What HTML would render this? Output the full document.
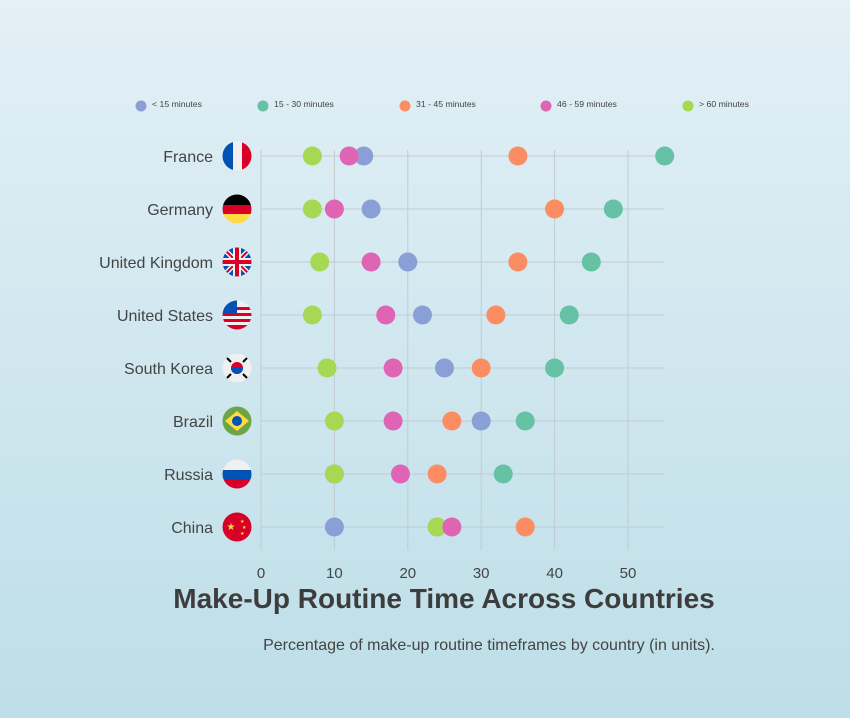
<!DOCTYPE html>
<html><head><meta charset="utf-8"><style>
html,body{margin:0;padding:0;width:850px;height:718px;overflow:hidden}
body{background:linear-gradient(#e3f0f6,#bddee8);font-family:"Liberation Sans",sans-serif}
</style></head><body>
<svg id="chart" width="850" height="718" xmlns="http://www.w3.org/2000/svg" font-family="Liberation Sans, sans-serif">
<defs>
<clipPath id="fc"><circle cx="0" cy="0" r="14.5"/></clipPath>
</defs>
<g id="grid"></g>
<g id="flags"></g>
<g id="marks"></g>
<g id="legend"></g>
<text x="444" y="608" text-anchor="middle" font-size="28" font-weight="bold" fill="#3d3d3d">Make-Up Routine Time Across Countries</text>
<text x="489" y="650" text-anchor="middle" font-size="16" fill="#444">Percentage of make-up routine timeframes by country (in units).</text>
</svg>
<script>
const countries=["France","Germany","United Kingdom","United States","South Korea","Brazil","Russia","China"];
const seriesNames=["< 15 minutes","15 - 30 minutes","31 - 45 minutes","46 - 59 minutes","> 60 minutes"];
const under15=[14,15,20,22,25,30,10,10];
const m15to30=[55,48,45,42,40,36,33,24];
const m31to45=[35,40,35,32,30,26,24,36];
const m46to59=[12,10,15,17,18,18,19,26];
const over60=[7,7,8,7,9,10,10,24];
const xTicks=[0,10,20,30,40,50];
const colors=["#8a9fd6","#66c2a5","#fc8d62","#e064b4","#a6d854"];
const NS="http://www.w3.org/2000/svg";
const x=v=>261+v*7.34;
const y=i=>156+i*53;
function el(t,a,p){const e=document.createElementNS(NS,t);for(const k in a)e.setAttribute(k,a[k]);p.appendChild(e);return e;}
const grid=document.getElementById('grid');
xTicks.forEach(t=>{
 const l=el('line',{x1:x(t),x2:x(t),y1:150,y2:550,stroke:'#c3cbd0','stroke-width':1},grid);
 
 
 const tx=el('text',{x:x(t),y:578,'text-anchor':'middle','font-size':15,fill:'#444'},grid);
 tx.textContent=t;
 
 
});
countries.forEach((c,i)=>{
 const l=el('line',{x1:x(0),x2:x(55),y1:y(i),y2:y(i),stroke:'#c3cbd0','stroke-width':1},grid);
 
 
 const t=el('text',{x:213,y:y(i)+6,'text-anchor':'end','font-size':16,fill:'#444'},grid);
 t.textContent=c;
 
 
});
const flags=document.getElementById('flags');
const flagSvg=[
 '<rect x="-15" y="-15" width="11" height="30" fill="#0052b4"/><rect x="-4" y="-15" width="9" height="30" fill="#f0f0f0"/><rect x="5" y="-15" width="10" height="30" fill="#d80027"/>',
 '<rect x="-15" y="-15" width="30" height="11" fill="#000"/><rect x="-15" y="-4" width="30" height="9" fill="#d80027"/><rect x="-15" y="5" width="30" height="10" fill="#ffda44"/>',
 '<rect x="-15" y="-15" width="30" height="30" fill="#0052b4"/><path d="M-15-15L15 15M15-15L-15 15" stroke="#f0f0f0" stroke-width="5"/><path d="M-15-15L15 15M15-15L-15 15" stroke="#d80027" stroke-width="2"/><rect x="-15" y="-4" width="30" height="8" fill="#f0f0f0"/><rect x="-4" y="-15" width="8" height="30" fill="#f0f0f0"/><rect x="-15" y="-2" width="30" height="4" fill="#d80027"/><rect x="-2" y="-15" width="4" height="30" fill="#d80027"/>',
 '<rect x="-15" y="-15" width="30" height="30" fill="#f0f0f0"/><rect x="-15" y="-8" width="30" height="3" fill="#d80027"/><rect x="-15" y="-2" width="30" height="3" fill="#d80027"/><rect x="-15" y="4" width="30" height="3" fill="#d80027"/><rect x="-15" y="10" width="30" height="5" fill="#d80027"/><rect x="-15" y="-15" width="15" height="14" fill="#0052b4"/>',
 '<rect x="-15" y="-15" width="30" height="30" fill="#f0f0f0"/><circle r="6" fill="#d80027"/><path d="M-6 0a6 6 0 0 0 12 0z" fill="#0052b4"/><path d="M-10-10l4 4M10-10l-4 4M-10 10l4-4M10 10l-4-4" stroke="#000" stroke-width="2"/>',
 '<rect x="-15" y="-15" width="30" height="30" fill="#6da544"/><path d="M0-10L12 0 0 10-12 0z" fill="#ffda44"/><circle r="5" fill="#0052b4"/>',
 '<rect x="-15" y="-15" width="30" height="11" fill="#f0f0f0"/><rect x="-15" y="-4" width="30" height="9" fill="#0052b4"/><rect x="-15" y="5" width="30" height="10" fill="#d80027"/>',
 '<rect x="-15" y="-15" width="30" height="30" fill="#d80027"/><text x="-6" y="3" font-size="10" fill="#ffda44" text-anchor="middle">★</text><text x="3" y="-4" font-size="5" fill="#ffda44">★</text><text x="5" y="2" font-size="5" fill="#ffda44">★</text><text x="3" y="8" font-size="5" fill="#ffda44">★</text>'
];
countries.forEach((c,i)=>{
 const g=el('g',{transform:`translate(237,${y(i)})`},flags);
 
 
 g.innerHTML='<g clip-path="url(#fc)">'+flagSvg[i]+'</g>';
});
const marks=document.getElementById('marks');
const allSeries=[under15,m15to30,m31to45,over60,m46to59];
const sIdx=[0,1,2,4,3];
allSeries.forEach((s,k)=>{
 const si=sIdx[k];
 s.forEach((v,i)=>{
  const c=el('circle',{cx:x(v),cy:y(i),r:9.5,fill:colors[si]},marks);
  
  
 });
});
const legend=document.getElementById('legend');
const lx=[141,263,405,546,688];
seriesNames.forEach((n,i)=>{
 const c=el('circle',{cx:lx[i],cy:106,r:5.5,fill:colors[i]},legend);
 
 
 const t=el('text',{x:lx[i]+11,y:107,'font-size':8.7,fill:'#444'},legend);
 t.textContent=n;
 
 
});
</script>
</body></html>
